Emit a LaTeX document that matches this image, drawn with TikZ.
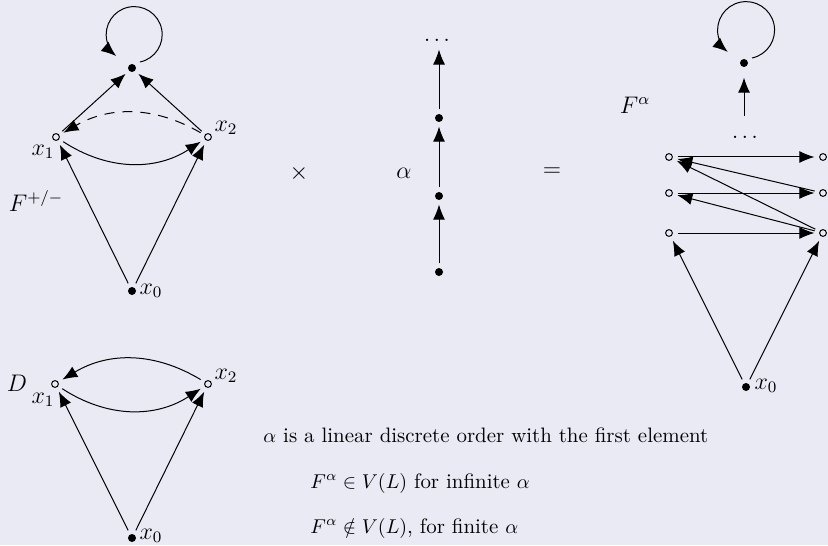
\documentclass[tikz,border=0pt]{standalone}
\usetikzlibrary{arrows.meta}
\definecolor{bgc}{RGB}{234,234,245}
\begin{document}
\begin{tikzpicture}[x=0.5pt,y=-0.5pt,
  fdot/.style={circle,fill=black,inner sep=0pt,minimum size=4pt,outer sep=2.3pt},
  odot/.style={circle,draw=black,line width=0.5pt,fill=bgc,inner sep=0pt,minimum size=3.4pt,outer sep=2.6pt},
  arr/.style={-{Latex[length=7.5pt,width=6pt]},line width=0.5pt},
  dsh/.style={dash pattern=on 5pt off 4pt},
  lbl/.style={inner sep=0pt,font=\fontsize{12}{14}\selectfont},
  txt/.style={inner sep=0pt,anchor=base west,font=\fontsize{10.45}{12}\selectfont}]
\fill[bgc] (0,0) rectangle (828,545);
\useasboundingbox (0,0) rectangle (828,545);

% left top diagram F^{+/-}
\node[fdot] (t1) at (132,68) {};
\node[odot] (a1) at (56,137) {};
\node[odot] (a2) at (208,137) {};
\node[fdot] (a0) at (132,291) {};
\node[lbl] at (43,152) {$x_1$};
\node[lbl] at (226,128) {$x_2$};
\node[lbl] at (151,291) {$x_0$};
\node[lbl] at (36,201) {$F^{+/-}$};
\draw[arr] (t1) ++(8,-6) arc[start angle=78,end angle=-230,radius=28];
\draw[arr] (a1) -- (t1);
\draw[arr] (a2) -- (t1);
\draw[arr,dsh] (a2) to[bend right=30] (a1);
\draw[arr] (a1) to[bend right=33] (a2);
\draw[arr] (a0) -- (a1);
\draw[arr] (a0) -- (a2);

% middle
\node[lbl] at (299,173) {$\times$};
\node[lbl] at (404,173) {$\alpha$};
\node[lbl] at (552,172) {$=$};
\node[fdot] (b0) at (439,272) {};
\node[fdot] (b1) at (439,196) {};
\node[fdot] (b2) at (439,118) {};
\node[lbl,font=\fontsize{11}{13}\selectfont] (bd) at (437,40) {$\dots$};
\draw[arr] (b0) -- (b1);
\draw[arr] (b1) -- (b2);
\draw[arr,shorten >=4pt] (b2) -- (b2 |- bd.south);

% right F^alpha
\node[fdot] (t2) at (744,63) {};
\draw[arr] (t2) ++(8,-5) arc[start angle=78,end angle=-230,radius=28.5];
\node[lbl] at (635,105) {$F^\alpha$};
\node[lbl,font=\fontsize{11}{13}\selectfont] (rd) at (745,137) {$\dots$};
\coordinate (rs) at (744,116);
\draw[arr,shorten >=3pt] (rs) -- (t2);
\node[odot] (l1) at (669,157) {};
\node[odot] (r1) at (823,157) {};
\node[odot] (l2) at (669,193) {};
\node[odot] (r2) at (823,193) {};
\node[odot] (l3) at (669,233) {};
\node[odot] (r3) at (823,233) {};
\node[fdot] (c0) at (746,387) {};
\node[lbl] at (766,386) {$x_0$};
\draw[arr] (l1) -- (r1);
\draw[arr] (l2) -- (r2);
\draw[arr] (l3) -- (r3);
\draw[arr] (r2) -- (l1);
\draw[arr] (r3) -- (l1);
\draw[arr] (r3) -- (l2);
\draw[arr] (c0) -- (l3);
\draw[arr] (c0) -- (r3);

% bottom left D
\node[odot] (d1) at (55,384) {};
\node[odot] (d2) at (208,384) {};
\node[fdot] (d0) at (132,538) {};
\node[lbl] at (17,383) {$D$};
\node[lbl] at (43,400) {$x_1$};
\node[lbl] at (226,376) {$x_2$};
\node[lbl] at (151,536) {$x_0$};
\draw[arr] (d2) to[bend right=31] (d1);
\draw[arr] (d1) to[bend right=33] (d2);
\draw[arr] (d0) -- (d1);
\draw[arr] (d0) -- (d2);

% text
\node[txt] at (263,442) {$\alpha$ is a linear discrete order with the first element};
\node[txt] at (310,488) {$F^\alpha\in V(L)$ for infinite $\alpha$};
\node[txt] at (310,533) {$F^\alpha\notin V(L)$, for finite $\alpha$};
\end{tikzpicture}
\end{document}
